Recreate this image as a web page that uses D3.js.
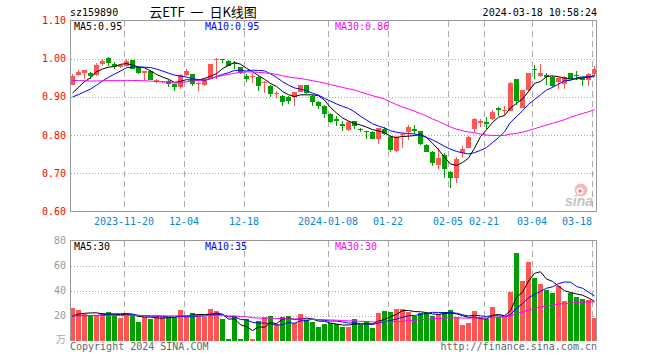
<!DOCTYPE html>
<html><head><meta charset="utf-8">
<script src="https://cdn.jsdelivr.net/npm/d3@7"></script>
<style>body{margin:0;background:#fff}svg{display:block}</style>
</head><body><svg id="c" width="660" height="360"></svg>
<script>
const dates = [
 "2023-11-07","2023-11-08","2023-11-09","2023-11-10","2023-11-13","2023-11-14","2023-11-15","2023-11-16","2023-11-17",
 "2023-11-20","2023-11-21","2023-11-22","2023-11-23","2023-11-24","2023-11-27","2023-11-28","2023-11-29","2023-11-30",
 "2023-12-01","2023-12-04","2023-12-05","2023-12-06","2023-12-07","2023-12-08","2023-12-11","2023-12-12","2023-12-13",
 "2023-12-14","2023-12-15","2023-12-18","2023-12-19","2023-12-20","2023-12-21","2023-12-22","2023-12-25","2023-12-26",
 "2023-12-27","2023-12-28","2023-12-29","2024-01-02","2024-01-03","2024-01-04","2024-01-05","2024-01-08","2024-01-09",
 "2024-01-10","2024-01-11","2024-01-12","2024-01-15","2024-01-16","2024-01-17","2024-01-18","2024-01-19","2024-01-22",
 "2024-01-23","2024-01-24","2024-01-25","2024-01-26","2024-01-29","2024-01-30","2024-01-31","2024-02-01","2024-02-02",
 "2024-02-05","2024-02-06","2024-02-07","2024-02-08","2024-02-19","2024-02-20","2024-02-21","2024-02-22","2024-02-23",
 "2024-02-26","2024-02-27","2024-02-28","2024-02-29","2024-03-01","2024-03-04","2024-03-05","2024-03-06","2024-03-07",
 "2024-03-08","2024-03-11","2024-03-12","2024-03-13","2024-03-14","2024-03-15","2024-03-18"];

const open = [0.931,0.957,0.962,0.963,0.957,0.985,1.003,0.985,0.977,0.981,0.996,0.977,0.963,0.968,0.943,0.940,0.941,0.933,
 0.927,0.958,0.959,0.935,0.930,0.948,0.996,0.999,0.993,0.989,0.977,0.955,0.953,0.953,0.936,0.929,0.908,0.903,0.900,0.900,
 0.913,0.930,0.903,0.887,0.877,0.855,0.843,0.829,0.813,0.837,0.817,0.810,0.809,0.791,0.816,0.796,0.759,0.799,0.809,0.817,
 0.810,0.774,0.757,0.722,0.749,0.703,0.688,0.754,0.767,0.815,0.832,0.834,0.843,0.872,0.862,0.863,0.946,0.872,0.918,0.973,
 0.955,0.957,0.953,0.939,0.933,0.962,0.957,0.950,0.944,0.959];
const high = [0.959,0.970,0.971,0.965,0.990,0.998,1.004,0.991,0.986,0.998,0.997,0.978,0.969,0.970,0.948,0.942,0.944,0.934,
 0.959,0.972,0.960,0.938,0.950,0.987,1.001,1.000,0.996,0.994,0.978,0.959,0.963,0.954,0.942,0.930,0.916,0.904,0.902,0.914,
 0.932,0.931,0.905,0.888,0.878,0.857,0.850,0.837,0.837,0.838,0.819,0.811,0.810,0.819,0.820,0.800,0.798,0.806,0.826,0.826,
 0.812,0.776,0.758,0.765,0.752,0.705,0.743,0.771,0.797,0.844,0.841,0.847,0.865,0.873,0.876,0.938,0.947,0.918,0.963,0.983,
 0.985,0.962,0.955,0.951,0.954,0.963,0.968,0.951,0.962,0.981];
const low = [0.931,0.955,0.948,0.948,0.956,0.981,0.981,0.972,0.975,0.980,0.972,0.959,0.942,0.943,0.937,0.937,0.927,0.916,
 0.920,0.955,0.929,0.916,0.929,0.947,0.946,0.990,0.980,0.972,0.959,0.939,0.937,0.916,0.911,0.901,0.898,0.877,0.881,0.877,
 0.912,0.907,0.875,0.868,0.846,0.831,0.823,0.811,0.812,0.816,0.807,0.790,0.789,0.778,0.800,0.757,0.757,0.765,0.787,0.804,
 0.774,0.755,0.720,0.710,0.688,0.662,0.675,0.741,0.766,0.808,0.822,0.815,0.839,0.850,0.852,0.862,0.878,0.870,0.914,0.948,
 0.953,0.930,0.926,0.921,0.921,0.946,0.944,0.928,0.928,0.956];
const close = [0.955,0.965,0.970,0.955,0.983,0.993,0.988,0.979,0.983,0.993,0.974,0.963,0.968,0.944,0.944,0.941,0.934,0.927,
 0.957,0.967,0.933,0.937,0.948,0.986,1.000,0.998,0.981,0.986,0.963,0.946,0.955,0.929,0.938,0.907,0.909,0.887,0.888,0.913,
 0.930,0.909,0.887,0.877,0.855,0.833,0.837,0.823,0.835,0.824,0.813,0.809,0.791,0.818,0.803,0.761,0.796,0.804,0.822,0.811,
 0.777,0.757,0.726,0.739,0.712,0.688,0.738,0.764,0.796,0.843,0.838,0.828,0.860,0.865,0.865,0.937,0.889,0.917,0.962,0.971,
 0.962,0.953,0.928,0.950,0.953,0.948,0.955,0.944,0.959,0.974];
const volume = [26.2,24.3,21.2,19.6,19.5,22,23,20.4,18.3,22,20.4,15.1,18.5,17.2,19.6,18.5,18.5,18.3,24.3,19,22,20.4,18.5,
 25.1,23.8,17.2,1,19.6,1,17,1,15.6,18.5,19.6,13,18.5,19.6,13.8,21.2,16.4,15.1,11.1,13,13.8,13,11.1,11.1,17.2,12.4,15.6,10.3,
 22.2,23.8,23,25.1,25.1,23,19.6,22,22,19.6,21.2,23,24.3,18.5,12.4,14.3,23.8,18.5,16.9,26.7,18.5,18.5,38.9,69.8,47.4,62.7,
 50,45,40.7,38.1,43.9,31.5,38.1,34.7,33.1,32.3,18.3];
// closes / volumes of the 29 sessions before the window (needed for the moving averages)
const prevClose = [0.975,0.980,0.978,0.982,0.976,0.975,0.980,0.978,0.975,0.980,0.977,0.980,0.975,0.972,0.970,0.974,0.970,
 0.971,0.865,0.857,0.905,0.895,0.885,0.880,0.885,0.890,0.895,0.905,0.905];
const prevVolume = [20,19,21,18,22,20,19,21,20,18,19,22,20,19,21,20,18,20,21,19,20,22,19,18,18,17,18,18,19];

const priceTicks = [1.10,1.00,0.90,0.80,0.70,0.60];
const volTicks = [80,60,40,20];
const tickDates = ["2023-11-20","2023-12-04","2023-12-18","2024-01-08","2024-01-22","2024-02-05","2024-02-21","2024-03-04","2024-03-18"];
const tickLabels = ["2023-11-20","12-04","12-18","2024-01-08","01-22","02-05","02-21","03-04","03-18"];
const priceLegend = ["MA5:0.95","MA10:0.95","MA30:0.86"];
const volLegend = ["MA5:30","MA10:35","MA30:30"];
const maPeriods = [5,10,30];
const maColors = ["#000000","#0000ff","#ff00ff"];

const RED="#ff5555", GREEN="#00a000", MONO="'DejaVu Sans Mono', monospace";
const svg = d3.select("#c");
const x = d3.scaleBand().domain(dates).range([70,597]).paddingInner(1/6).paddingOuter(0);
const yP = d3.scaleLinear().domain([0.60,1.10]).range([211.5,20.5]);
const yV = d3.scaleLinear().domain([0,80]).range([340.5,240.5]);
const bw = x.bandwidth();
const cx = d => x(d) + bw/2;

function ma(values, prev, n){
  const all = prev.concat(values);
  return values.map((v,i)=>{ const j=i+prev.length; return d3.mean(all.slice(j-n+1,j+1)); });
}

// grid
const g = svg.append("g").attr("shape-rendering","crispEdges");
priceTicks.slice(1,-1).forEach(v=>{
  const yy=Math.round(yP(v))+0.5;
  g.append("line").attr("x1",71).attr("x2",596).attr("y1",yy).attr("y2",yy)
   .attr("stroke","#aaa").attr("stroke-dasharray","1,2");
});
volTicks.slice(1).forEach(v=>{
  const yy=Math.round(yV(v))+0.5;
  g.append("line").attr("x1",71).attr("x2",596).attr("y1",yy).attr("y2",yy)
   .attr("stroke","#aaa").attr("stroke-dasharray","1,2");
});
tickDates.forEach(d=>{
  const xx=Math.round(x(d))+0.5;
  [[21,211],[241,341]].forEach(([a,b])=>{
    g.append("line").attr("x1",xx).attr("x2",xx).attr("y1",a).attr("y2",b)
     .attr("stroke","#aaa").attr("stroke-dasharray","6,4");
  });
});

// sina watermark
const wm = svg.append("g");
wm.append("circle").attr("cx",581).attr("cy",190).attr("r",6.5).attr("fill","#f4b8b8");
wm.append("circle").attr("cx",580).attr("cy",191).attr("r",3.5).attr("fill","#fff");
wm.append("circle").attr("cx",580).attr("cy",191).attr("r",1.8).attr("fill","#e58080");
wm.append("text").attr("x",565).attr("y",206).attr("font-family","Arial, 'Liberation Sans', sans-serif")
  .attr("font-weight","bold").attr("font-style","italic").attr("font-size",14).attr("fill","#c4c4c4").text("sina");
svg.append("rect").attr("x",597).attr("y",180).attr("width",20).attr("height",30).attr("fill","#fff");

// candles
const cg = svg.append("g").attr("shape-rendering","crispEdges");
dates.forEach((d,i)=>{
  const up = close[i] >= open[i];
  const col = up ? RED : GREEN;
  const xx = Math.round(x(d));
  cg.append("line").attr("x1",xx+2.5).attr("x2",xx+2.5)
    .attr("y1",yP(high[i])).attr("y2",yP(low[i])).attr("stroke",col);
  const top = yP(Math.max(open[i],close[i])), bot = yP(Math.min(open[i],close[i]));
  cg.append("rect").attr("x",xx).attr("y",top).attr("width",bw)
    .attr("height",Math.max(1,bot-top)).attr("fill",col);
  // volume
  cg.append("rect").attr("x",xx).attr("y",yV(volume[i])).attr("width",bw)
    .attr("height",341-yV(volume[i])).attr("fill",col);
});

// moving averages
maPeriods.forEach((n,k)=>{
  const mp = ma(close, prevClose, n);
  const mv = ma(volume, prevVolume, n);
  svg.append("path").datum(mp).attr("fill","none").attr("stroke",maColors[k]).attr("stroke-width",1)
    .attr("d", d3.line().x((v,i)=>cx(dates[i])).y(v=>yP(v)));
  svg.append("path").datum(mv).attr("fill","none").attr("stroke",maColors[k]).attr("stroke-width",1)
    .attr("d", d3.line().x((v,i)=>cx(dates[i])).y(v=>yV(v)));
});

// frames
const fr = svg.append("g").attr("shape-rendering","crispEdges").attr("fill","none").attr("stroke","#999");
fr.append("rect").attr("x",70.5).attr("y",20.5).attr("width",526).attr("height",191);
fr.append("path").attr("d","M70.5,341V240.5H596.5V341");

// axis labels
const txt = (xx,yy,s,col,anchor,size,fam)=>svg.append("text").attr("x",xx).attr("y",yy)
  .attr("fill",col).attr("text-anchor",anchor||"start").attr("font-size",size||10)
  .attr("font-family",fam||MONO).style("white-space","pre").text(s);
priceTicks.forEach(v=>txt(66, yP(v)+3.5, v.toFixed(2), "#ff0000","end"));
volTicks.forEach(v=>txt(66, yV(v)+3.5, String(v), "#999","end"));
txt(66, 343, "万", "#aaa", "end", 10, "'Noto Sans CJK SC', sans-serif");
tickDates.forEach((d,i)=>{
  const xx = Math.round(x(d));
  const half = tickLabels[i].length*3;
  if (xx + half > 596) txt(592, 225, tickLabels[i], "#0a84d6", "end");
  else txt(xx, 225, tickLabels[i], "#0a84d6", "middle");
});

// legends
const lx = [74,205,335];
priceLegend.forEach((s,i)=>txt(lx[i],30,s,maColors[i]));
volLegend.forEach((s,i)=>txt(lx[i],250,s,maColors[i]));

// titles
txt(70,16,"sz159890","#000");
txt(203,17,"云ETF  一  日K线图","#000","middle",13,"'Noto Sans CJK SC', sans-serif");
txt(597,16,"2024-03-18 10:58:24","#000","end");
txt(70,350,"Copyright 2024 SINA.COM","#666","start",10);
txt(597,350,"http://finance.sina.com.cn","#666","end",10);
</script></body></html>
